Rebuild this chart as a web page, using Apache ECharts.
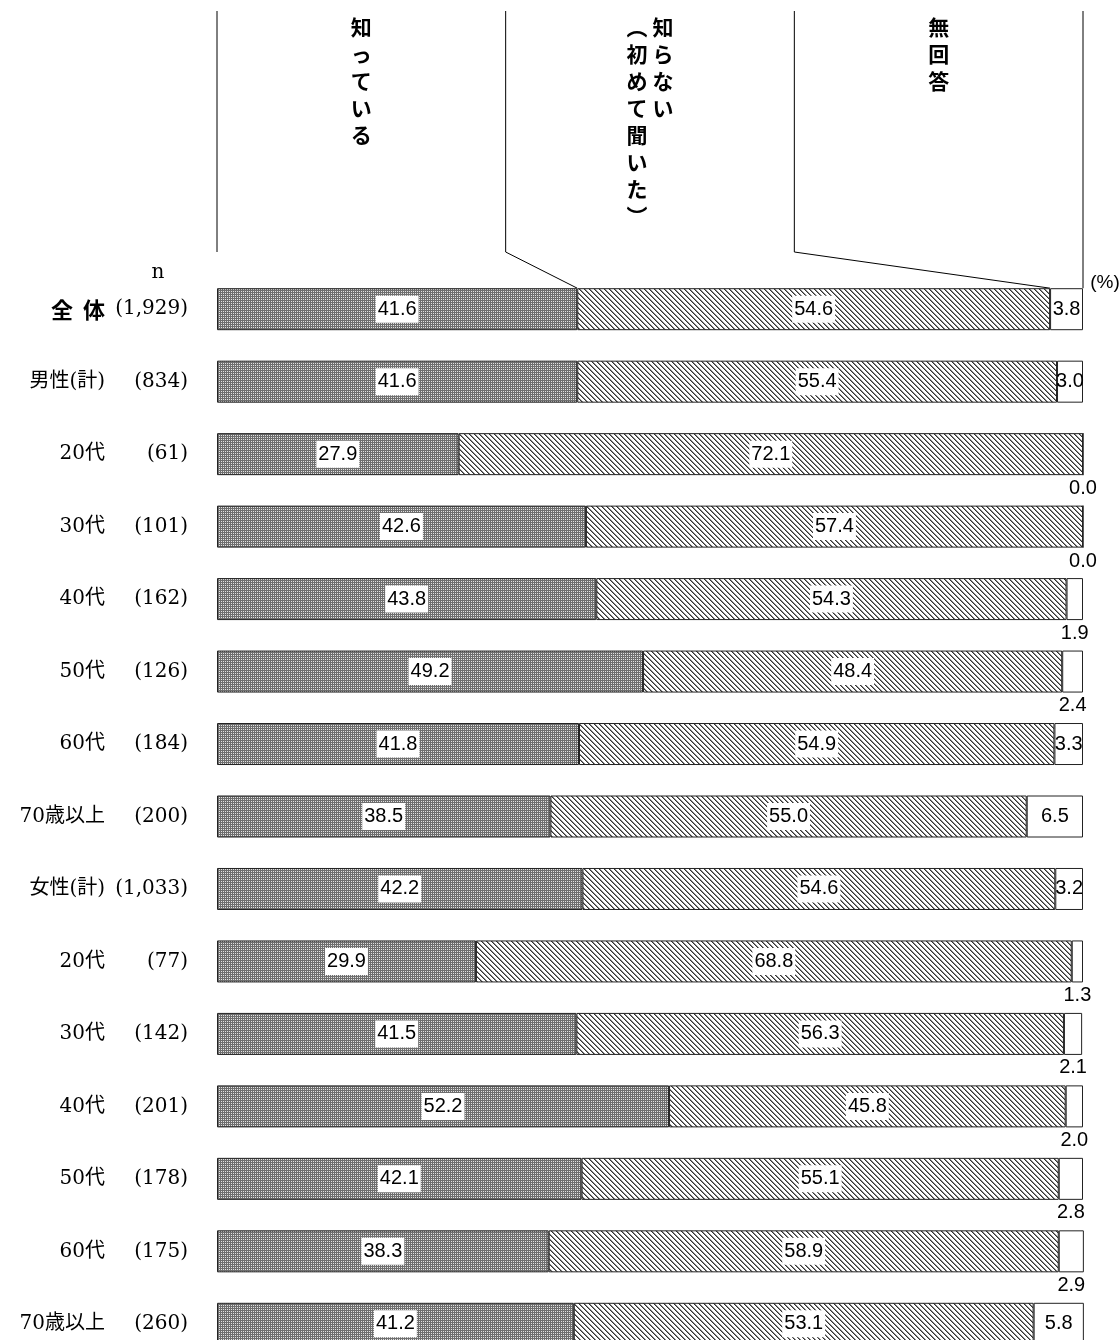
<!DOCTYPE html>
<html><head><meta charset="utf-8">
<script src="https://cdn.jsdelivr.net/npm/echarts@6/dist/echarts.min.js"></script>
<style>html,body{margin:0;padding:0;background:#fff}#c{width:1119px;height:1340px}</style>
</head><body><div id="c"></div>
<script>
// ---- data ----
var groupNames = ['全  体','男性(計)','20代','30代','40代','50代','60代','70歳以上','女性(計)','20代','30代','40代','50代','60代','70歳以上'];
var sampleSizes = ['(1,929)','(834)','(61)','(101)','(162)','(126)','(184)','(200)','(1,033)','(77)','(142)','(201)','(178)','(175)','(260)'];
var seriesNames = ['知っている','知らない（初めて聞いた）','無回答'];
var headerTexts = [['知っている'], ['知らない', '︵初めて聞いた︶'], ['無回答']];
var knowVals   = [41.6,41.6,27.9,42.6,43.8,49.2,41.8,38.5,42.2,29.9,41.5,52.2,42.1,38.3,41.2];
var unknownVals= [54.6,55.4,72.1,57.4,54.3,48.4,54.9,55.0,54.6,68.8,56.3,45.8,55.1,58.9,53.1];
var noAnsVals  = [3.8,3.0,0.0,0.0,1.9,2.4,3.3,6.5,3.2,1.3,2.1,2.0,2.8,2.9,5.8];

// ---- patterns ----
function makeChecker(){
  var c=document.createElement('canvas');c.width=2;c.height=2;var g=c.getContext('2d');
  g.fillStyle='#6e6e6e';g.fillRect(0,0,2,2);
  g.fillStyle='#e2e2e2';g.fillRect(1,1,1,1);
  return c;
}
function makeHatch(){
  var p=5;var c=document.createElement('canvas');c.width=p;c.height=p;var g=c.getContext('2d');
  g.fillStyle='#ffffff';g.fillRect(0,0,p,p);
  for(var y=0;y<p;y++)for(var x=0;x<p;x++){
    var d=((x-y)%p+p)%p;
    if(d===0){g.fillStyle='#333333';g.fillRect(x,y,1,1);}
    else if(d===1){g.fillStyle='#8a8a8a';g.fillRect(x,y,1,1);}
  }
  return c;
}
var checker={image:makeChecker(),repeat:'repeat'};
var hatch={image:makeHatch(),repeat:'repeat'};

var chart=echarts.init(document.getElementById('c'),null,{renderer:'canvas'});
var valFont='"Liberation Sans Narrow","Liberation Sans",Arial,sans-serif';
var fmt=function(p){return p.value.toFixed(1);};
var boxLabel={show:true,position:'inside',color:'#000',fontSize:20,fontFamily:valFont,
  backgroundColor:'#fff',padding:[4,2,3,2],formatter:fmt};

var noAnsData=noAnsVals.map(function(v){
  var small=v<3;
  return {value:v,label:{show:true,position:small?'bottom':'inside',distance:3,color:'#000',
    fontSize:20,fontFamily:valFont,formatter:fmt}};
});

var barW=42;
var option={
  animation:false,
  grid:{left:217,right:36,top:309.2,bottom:16.2,containLabel:false},
  xAxis:{type:'value',min:0,max:100,show:false},
  yAxis:{type:'category',inverse:true,boundaryGap:false,data:groupNames,
    axisLine:{show:false},axisTick:{show:false},splitLine:{show:false},
    axisLabel:{margin:29,align:'right',
      formatter:function(v,i){
        var nm=i===0?'{b|'+v+'}':'{nm|'+v+'}';
        return nm+'{n|'+sampleSizes[i]+'}';
      },
      rich:{
        nm:{width:100,align:'right',fontSize:20,color:'#000',fontFamily:'"DejaVu Serif","Noto Sans CJK JP",serif'},
        b:{width:100,align:'right',fontSize:22,fontWeight:'bold',color:'#000',fontFamily:'"Noto Sans CJK JP",sans-serif'},
        n:{width:83,align:'right',fontSize:20,color:'#000',fontFamily:'"DejaVu Serif",serif'}
      }}},
  series:[
    {name:seriesNames[0],type:'bar',stack:'s',barWidth:barW,clip:false,data:knowVals,
      itemStyle:{color:checker,borderColor:'#222',borderWidth:1},label:boxLabel},
    {name:seriesNames[1],type:'bar',stack:'s',barWidth:barW,clip:false,data:unknownVals,
      itemStyle:{color:hatch,borderColor:'#222',borderWidth:1},label:boxLabel},
    {name:seriesNames[2],type:'bar',stack:'s',barWidth:barW,clip:false,data:noAnsData,
      itemStyle:{color:'#fff',borderColor:'#222',borderWidth:1}}
  ]
};
chart.setOption(option);

// ---- header built from axis scales ----
function px(v){return chart.convertToPixel({xAxisIndex:0},v);}
var firstY=chart.convertToPixel({yAxisIndex:0},0);
var barTop=firstY-barW/2;
var lineTop=11, lineBot=252;
var c0=px(0),c1=px(100/3),c2=px(200/3),c3=px(100);
var b1=px(knowVals[0]), b2=px(knowVals[0]+unknownVals[0]);
var ls={stroke:'#000',lineWidth:1};
var gr=[
  {type:'polyline',shape:{points:[[c0,lineTop],[c0,lineBot]]},style:ls,silent:true},
  {type:'polyline',shape:{points:[[c1,lineTop],[c1,lineBot],[b1,barTop]]},style:ls,silent:true},
  {type:'polyline',shape:{points:[[c2,lineTop],[c2,lineBot],[b2,barTop]]},style:ls,silent:true},
  {type:'polyline',shape:{points:[[c3,lineTop],[c3,barTop]]},style:ls,silent:true}
];
var hfont='"Noto Sans CJK JP",sans-serif';
function vtext(str,x){
  return {type:'text',x:x,y:14,silent:true,style:{text:str.split('').join('\n'),fontSize:21,fontWeight:'bold',
    lineHeight:27,fill:'#000',align:'center',verticalAlign:'top',fontFamily:hfont}};
}
gr.push(vtext(headerTexts[0][0],(c0+c1)/2));
gr.push(vtext(headerTexts[1][0],(c1+c2)/2+13));
gr.push(vtext(headerTexts[1][1],(c1+c2)/2-13));
gr.push(vtext(headerTexts[2][0],(c2+c3)/2));
gr.push({type:'text',x:c3+22,y:barTop-5,silent:true,style:{text:'(%)',fontSize:19,fill:'#000',
  align:'center',verticalAlign:'middle',fontFamily:'"Liberation Sans",Arial,sans-serif'}});
gr.push({type:'text',x:158,y:273,silent:true,style:{text:'n',fontSize:20,fill:'#000',
  align:'center',verticalAlign:'middle',fontFamily:'"DejaVu Serif",serif'}});
chart.setOption({graphic:gr});
</script></body></html>
